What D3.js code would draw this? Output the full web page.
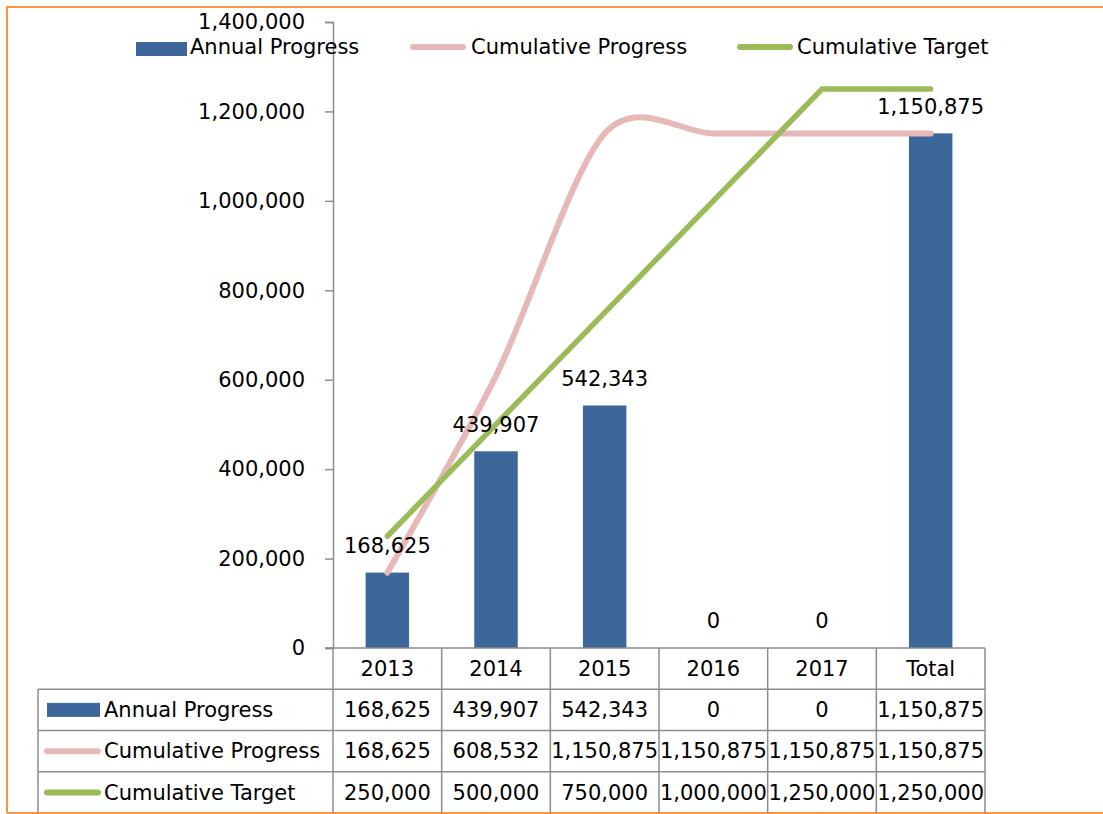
<!DOCTYPE html>
<html>
<head>
<meta charset="utf-8">
<script src="https://cdn.jsdelivr.net/npm/d3@7"></script>
<style>
  body { margin: 0; background: #fff; }
  svg text { font-family: "DejaVu Sans", sans-serif; font-size: 21px; fill: #000; }
</style>
</head>
<body>
<div id="chart"></div>
<script>
const categories = ["2013", "2014", "2015", "2016", "2017", "Total"];
const annualProgress = [168625, 439907, 542343, 0, 0, 1150875];
const cumulativeProgress = [168625, 608532, 1150875, 1150875, 1150875, 1150875];
const cumulativeTarget = [250000, 500000, 750000, 1000000, 1250000, 1250000];
const seriesNames = ["Annual Progress", "Cumulative Progress", "Cumulative Target"];
const yTicks = [0, 200000, 400000, 600000, 800000, 1000000, 1200000, 1400000];

const ctx = {
    width: 1103,
    height: 814,
    blue: "#3d679a",
    pink: "#e6b9b8",
    green: "#9bbb59",
    grid: "#8c8c8c"
};

const fmt = d3.format(",");

const svg = d3.select("#chart").append("svg")
    .attr("width", ctx.width)
    .attr("height", ctx.height);

// cadre orange
svg.append("path")
    .attr("d", "M7,813 L7,7 L1103,7")
    .attr("fill", "none")
    .attr("stroke", "#f79646")
    .attr("stroke-width", 2);
svg.append("line")
    .attr("x1", 7).attr("x2", 1103).attr("y1", 813).attr("y2", 813)
    .attr("stroke", "#f79646").attr("stroke-width", 2);

const x = d3.scaleBand().domain(categories).range([333, 985]);
const y = d3.scaleLinear().domain([0, 1400000]).range([648, 22]);
const barW = x.bandwidth() * 0.4;
const cx = d => x(d) + x.bandwidth() / 2;

// axe y
const yAxis = svg.append("g")
    .attr("transform", "translate(333,0)")
    .call(d3.axisLeft(y).tickValues(yTicks).tickFormat(fmt).tickSize(8).tickPadding(20));
yAxis.select(".domain").attr("stroke", ctx.grid).attr("stroke-width", 1.5);
yAxis.selectAll(".tick line").attr("stroke", ctx.grid).attr("stroke-width", 1.5);
yAxis.selectAll(".tick text").style("font-size", "21px").style("font-family", "DejaVu Sans").attr("fill", "#000");

// barres
svg.selectAll(".bar")
    .data(annualProgress)
    .enter().append("rect")
    .attr("class", "bar")
    .attr("x", (d, i) => cx(categories[i]) - barW / 2)
    .attr("width", barW)
    .attr("y", d => y(d))
    .attr("height", d => y(0) - y(d))
    .attr("fill", ctx.blue);

// lignes
const lineProg = d3.line()
    .x((d, i) => cx(categories[i]))
    .y(d => y(d))
    .curve(d3.curveCardinal.tension(0.1));
const lineTarget = d3.line()
    .x((d, i) => cx(categories[i]))
    .y(d => y(d));

svg.append("path")
    .attr("d", lineProg(cumulativeProgress))
    .attr("fill", "none")
    .attr("stroke", ctx.pink)
    .attr("stroke-width", 6)
    .attr("stroke-linecap", "round");

svg.append("path")
    .attr("d", lineTarget(cumulativeTarget))
    .attr("fill", "none")
    .attr("stroke", ctx.green)
    .attr("stroke-width", 5.5)
    .attr("stroke-linecap", "round");

// étiquettes des barres
svg.selectAll(".lbl")
    .data(annualProgress)
    .enter().append("text")
    .attr("class", "lbl")
    .attr("x", (d, i) => cx(categories[i]))
    .attr("y", d => y(d) - 27)
    .attr("dy", "0.35em")
    .attr("text-anchor", "middle")
    .text(d => fmt(d));

// légende du haut
const legend = svg.append("g");
legend.append("rect").attr("x", 136).attr("y", 42).attr("width", 51).attr("height", 14).attr("fill", ctx.blue);
legend.append("text").attr("x", 190).attr("y", 47).attr("dy", "0.35em").text(seriesNames[0]);
legend.append("line").attr("x1", 413).attr("x2", 463).attr("y1", 47).attr("y2", 47)
    .attr("stroke", ctx.pink).attr("stroke-width", 6).attr("stroke-linecap", "round");
legend.append("text").attr("x", 471).attr("y", 47).attr("dy", "0.35em").text(seriesNames[1]);
legend.append("line").attr("x1", 740).attr("x2", 790).attr("y1", 47).attr("y2", 47)
    .attr("stroke", ctx.green).attr("stroke-width", 6).attr("stroke-linecap", "round");
legend.append("text").attr("x", 797).attr("y", 47).attr("dy", "0.35em").text(seriesNames[2]);

// tableau de données
const rowY = d3.scaleBand().domain(["head", ...seriesNames]).range([648, 813]);
const tableLeft = 38;
const tbl = svg.append("g");

// lignes horizontales
seriesNames.forEach(s => {
    tbl.append("line")
        .attr("x1", tableLeft).attr("x2", 985)
        .attr("y1", rowY(s)).attr("y2", rowY(s))
        .attr("stroke", ctx.grid).attr("stroke-width", 1.5);
});
tbl.append("line")
    .attr("x1", 325).attr("x2", 985).attr("y1", 648).attr("y2", 648)
    .attr("stroke", ctx.grid).attr("stroke-width", 1.5);
// lignes verticales
tbl.append("line")
    .attr("x1", tableLeft).attr("x2", tableLeft)
    .attr("y1", rowY(seriesNames[0])).attr("y2", 813)
    .attr("stroke", ctx.grid).attr("stroke-width", 1.5);
categories.forEach(c => {
    tbl.append("line")
        .attr("x1", x(c)).attr("x2", x(c))
        .attr("y1", 648).attr("y2", 813)
        .attr("stroke", ctx.grid).attr("stroke-width", 1.5);
});
tbl.append("line")
    .attr("x1", 985).attr("x2", 985).attr("y1", 648).attr("y2", 813)
    .attr("stroke", ctx.grid).attr("stroke-width", 1.5);

// en-tête
categories.forEach(c => {
    tbl.append("text")
        .attr("x", cx(c))
        .attr("y", rowY("head") + rowY.bandwidth() / 2)
        .attr("dy", "0.35em")
        .attr("text-anchor", "middle")
        .text(c);
});

const tableData = [annualProgress, cumulativeProgress, cumulativeTarget];
tableData.forEach((vals, r) => {
    const name = seriesNames[r];
    const my = rowY(name) + rowY.bandwidth() / 2;
    if (r === 0) {
        tbl.append("rect").attr("x", 47).attr("y", my - 7).attr("width", 53).attr("height", 14).attr("fill", ctx.blue);
    } else {
        tbl.append("line").attr("x1", 47).attr("x2", 98).attr("y1", my).attr("y2", my)
            .attr("stroke", r === 1 ? ctx.pink : ctx.green)
            .attr("stroke-width", 6).attr("stroke-linecap", "round");
    }
    tbl.append("text").attr("x", 104).attr("y", my).attr("dy", "0.35em").text(name);
    vals.forEach((v, i) => {
        tbl.append("text")
            .attr("x", cx(categories[i]))
            .attr("y", my)
            .attr("dy", "0.35em")
            .attr("text-anchor", "middle")
            .text(fmt(v));
    });
});
</script>
</body>
</html>
